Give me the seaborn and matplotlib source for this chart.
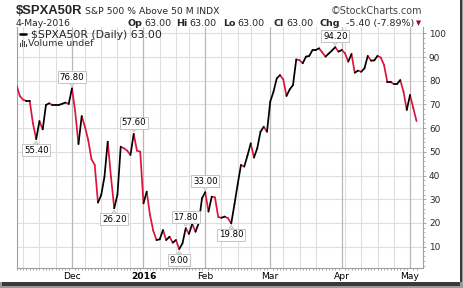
import numpy as np
import pandas as pd
import matplotlib
matplotlib.use("Agg")
import matplotlib.pyplot as plt
import seaborn as sns
from matplotlib.patches import Rectangle
from matplotlib.lines import Line2D

W, H = 464, 288
RED = "#DC143C"

# ---------------- data ----------------
start_date = "2015-11-05"
end_date = "2016-05-04"
holidays = ["2015-11-26", "2015-12-25", "2016-01-01", "2016-01-18",
            "2016-02-15", "2016-03-25"]

nov_values = [77.8, 73.5, 72.0, 71.5, 71.5, 62.0, 55.4, 63.0, 59.5, 69.8,
              70.5, 69.8, 69.8, 69.8, 70.3, 70.8, 70.2]
dec_values = [76.8, 67.0, 53.3, 65.1, 60.6, 55.0, 46.9, 44.5, 28.6, 31.8,
              39.5, 54.3, 39.5, 26.2, 32.0, 52.2, 51.5, 50.5, 48.7, 57.6,
              50.5, 50.1]
jan_values = [28.3, 33.2, 23.4, 16.8, 12.8, 13.1, 17.0, 12.8, 14.2, 11.7,
              12.8, 9.0, 11.4, 17.8, 15.4, 19.6, 16.3, 19.9, 30.4]
feb_values = [33.0, 24.8, 31.1, 30.8, 22.5, 22.2, 22.7, 22.0, 19.8, 28.0,
              36.5, 44.5, 43.8, 48.5, 53.6, 47.6, 51.5, 58.5, 60.6, 58.5]
mar_values = [71.2, 75.4, 81.0, 82.4, 80.6, 73.6, 76.4, 78.2, 89.0, 88.7,
              87.4, 90.2, 90.5, 93.0, 93.0, 93.7, 92.0, 90.2, 91.5, 92.8,
              94.2, 92.3]
apr_values = [93.0, 91.6, 88.1, 91.3, 83.4, 84.3, 83.8, 85.3, 90.5, 88.5,
              88.6, 90.5, 89.8, 86.7, 79.6, 79.6, 78.6, 78.6, 80.3, 75.4,
              67.7]
may_values = [74.0, 68.5, 63.0]

month_labels = ["Dec", "2016", "Feb", "Mar", "Apr", "May"]
y_ticks = [10, 20, 30, 40, 50, 60, 70, 80, 90, 100]

label_dates = ["2015-11-13", "2015-12-01", "2015-12-18", "2015-12-29",
               "2016-01-20", "2016-01-22", "2016-02-01", "2016-02-11",
               "2016-03-30"]
label_sides = ["below", "above", "below", "above", "below", "above",
               "above", "below", "above"]

# ---------------- build ----------------
values = nov_values + dec_values + jan_values + feb_values + mar_values + apr_values + may_values
dates = pd.bdate_range(start_date, end_date, freq="C", holidays=holidays)
n = len(values)
idx = np.arange(n)

rows = []
for i in range(1, n):
    d = "up" if values[i] >= values[i - 1] else "down"
    rows.append((i, idx[i - 1], values[i - 1], d))
    rows.append((i, idx[i], values[i], d))
seg = pd.DataFrame(rows, columns=["seg", "x", "y", "dir"])

sns.set_theme(style="white")
plt.rcParams["font.family"] = ["DejaVu Sans"]

fig = plt.figure(figsize=(W / 100, H / 100), dpi=100)
fig.patch.set_facecolor("white")

L, R, T, B = 16.7, 422.7, 27.0, 268.0
ax = fig.add_axes([L / W, 1 - B / H, (R - L) / W, (B - T) / H])
ax.set_facecolor("white")

# month starts and week starts
s = pd.Series(idx, index=dates)
month_first = s.groupby([dates.year, dates.month]).min()
month_pos = [p for p in month_first.values if p > 0]
week_first = s.groupby([dates.isocalendar().year.values, dates.isocalendar().week.values]).agg(list)
week_pos = []
for lst in week_first.values:
    if any(p in month_pos for p in lst):
        continue
    week_pos.append(lst[0])

for p in week_pos:
    ax.axvline(p, color="#DEDEDE", lw=0.8, zorder=0)
for p in month_pos:
    ax.axvline(p, color="#B8B8B8", lw=0.9, zorder=0.5)
for yv in y_ticks:
    ax.axhline(yv, color="#DEDEDE", lw=0.8, zorder=0)

sns.lineplot(data=seg, x="x", y="y", hue="dir", units="seg", estimator=None,
             palette={"up": "black", "down": RED}, legend=False, lw=1.25,
             sort=False, ax=ax, solid_capstyle="round", zorder=3)

ax.set_xlim(0, 124.9)
ax.set_ylim(1.0, 102.7)
ax.set_xlabel("")
ax.set_ylabel("")

ax.set_xticks(month_pos)
ax.set_xticklabels(month_labels)
ax.set_xticks(idx, minor=True)
ax.tick_params(axis="x", which="major", length=0, pad=3.2, labelsize=6.6, colors="black")
ax.tick_params(axis="x", which="minor", length=1.5, width=0.6, color="#999999", bottom=True)
for t in ax.get_xticklabels():
    if t.get_text() == "2016":
        t.set_fontweight("bold")

ax.yaxis.tick_right()
ax.set_yticks(y_ticks)
ax.set_yticks(np.arange(2, 102, 2), minor=True)
ax.tick_params(axis="y", which="major", length=2.5, width=0.6, color="#999999",
               pad=2.0, labelsize=6.4, right=True, left=False)
ax.tick_params(axis="y", which="minor", length=1.3, width=0.5, color="#999999",
               right=True, left=False)

for side in ["left", "bottom", "right"]:
    ax.spines[side].set_color("#A0A0A0")
    ax.spines[side].set_linewidth(0.8)
ax.spines["top"].set_visible(False)

# callout labels
for dstr, side in zip(label_dates, label_sides):
    i = int(s[pd.Timestamp(dstr)])
    v = values[i]
    off = 8.0 if side == "above" else -8.0
    ax.annotate(f"{v:.2f}", xy=(i, v), xytext=(0, off), textcoords="offset points",
                ha="center", va="center", fontsize=6.2, color="black", zorder=5,
                bbox=dict(boxstyle="square,pad=0.18", fc="white", ec="#C4C4C4", lw=0.7),
                arrowprops=dict(arrowstyle="wedge,tail_width=0.5,shrink_factor=0.5",
                                fc="white", ec="#C4C4C4", lw=0.7, shrinkA=0, shrinkB=1.5))

# ---------------- header texts ----------------
def fx(x):
    return x / W

def fy(y):
    return 1 - y / H

fig.text(fx(16), fy(14.5), "$SPXA50R", fontsize=9.4, fontweight="bold",
         family=["Liberation Sans", "DejaVu Sans"], va="baseline", ha="left")
fig.text(fx(85), fy(14.5), "S&P 500 % Above 50 M INDX", fontsize=6.7,
         va="baseline", ha="left")
fig.text(fx(422), fy(14.5), "©StockCharts.com", fontsize=6.9, color="#444444",
         va="baseline", ha="right")

fig.text(fx(16), fy(25.8), "4-May-2016", fontsize=6.7, va="baseline", ha="left")
pieces = [(127.7, "Op", True), (144.5, "63.00", False), (176.5, "Hi", True),
          (189.5, "63.00", False), (223.3, "Lo", True), (237.5, "63.00", False),
          (273.3, "Cl", True), (286.5, "63.00", False), (320.0, "Chg", True),
          (346.5, "-5.40 (-7.89%)", False)]
for x, t, b in pieces:
    fig.text(fx(x), fy(25.8), t, fontsize=6.8, fontweight="bold" if b else "normal",
             va="baseline", ha="left")
fig.text(fx(418.5), fy(25.0), "▼", fontsize=4.8, color="#990033",
         va="baseline", ha="center")

# in-plot legend
fig.add_artist(Line2D([fx(20), fx(26)], [fy(34.3), fy(34.3)], color="black", lw=1.8,
                      transform=fig.transFigure))
fig.text(fx(31.5), fy(37.6), "$SPXA50R (Daily) 63.00", fontsize=7.8,
         va="baseline", ha="left")
for bx, bh in [(20.0, 4.0), (22.0, 6.0), (24.0, 5.0), (26.0, 3.0)]:
    fig.add_artist(Rectangle((fx(bx), fy(46.5)), 1.2 / W, bh / H, transform=fig.transFigure,
                             fc="#444444", ec="none"))
fig.text(fx(28.5), fy(46.5), "Volume undef", fontsize=6.8, color="#333333",
         va="baseline", ha="left")

# frame shadow
fig.add_artist(Rectangle((fx(460), 0), 4 / W, 1, transform=fig.transFigure,
                         fc="#9A9A9A", ec="none"))
fig.add_artist(Rectangle((fx(460), fy(286)), 2.5 / W, (286 - 0) / H, transform=fig.transFigure,
                         fc="#3A3A3A", ec="none"))
fig.add_artist(Rectangle((0, 0), 1, 6 / H, transform=fig.transFigure,
                         fc="#9A9A9A", ec="none"))
fig.add_artist(Rectangle((fx(2), fy(285.5)), 458 / W, 3.5 / H, transform=fig.transFigure,
                         fc="#3A3A3A", ec="none"))

fig.savefig("out.png", dpi=100, facecolor="white")
